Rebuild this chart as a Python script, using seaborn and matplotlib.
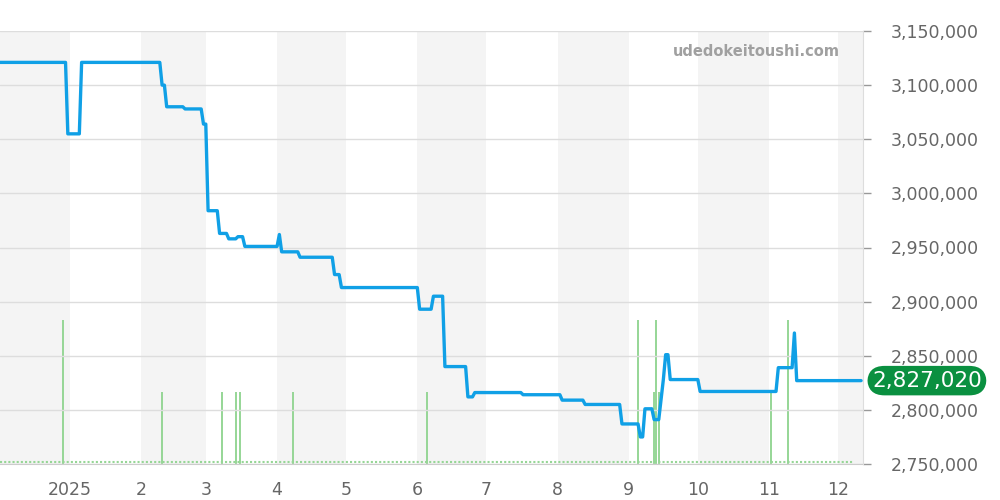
import matplotlib
matplotlib.use('Agg')
import matplotlib.pyplot as plt
import matplotlib.ticker as mticker
import pandas as pd
import seaborn as sns

sns.set_style('white')
plt.rcParams['font.family'] = ['DejaVu Sans']

price_dates = [
    '2024-12-01', '2024-12-30', '2024-12-31', '2025-01-05', '2025-01-06',
    '2025-02-09', '2025-02-10', '2025-02-11', '2025-02-12', '2025-02-19',
    '2025-02-20', '2025-02-27', '2025-02-28', '2025-03-01', '2025-03-02',
    '2025-03-06', '2025-03-07', '2025-03-10', '2025-03-11', '2025-03-14',
    '2025-03-15', '2025-03-17', '2025-03-18', '2025-04-01', '2025-04-02',
    '2025-04-03', '2025-04-10', '2025-04-11', '2025-04-25', '2025-04-26',
    '2025-04-28', '2025-04-29', '2025-06-01', '2025-06-02', '2025-06-07',
    '2025-06-08', '2025-06-12', '2025-06-13', '2025-06-22', '2025-06-23',
    '2025-06-25', '2025-06-26', '2025-07-16', '2025-07-17', '2025-08-02',
    '2025-08-03', '2025-08-12', '2025-08-13', '2025-08-28', '2025-08-29',
    '2025-09-05', '2025-09-06', '2025-09-07', '2025-09-08', '2025-09-11',
    '2025-09-12', '2025-09-14', '2025-09-16', '2025-09-17', '2025-09-18',
    '2025-09-19', '2025-10-01', '2025-10-02', '2025-11-04', '2025-11-05',
    '2025-11-11', '2025-11-12', '2025-11-13', '2025-12-11',
]
price_values = [
    3121000, 3121000, 3055000, 3055000, 3121000,
    3121000, 3100000, 3100000, 3080000, 3080000,
    3078000, 3078000, 3064000, 3064000, 2984000,
    2984000, 2963000, 2963000, 2958000, 2958000,
    2960000, 2960000, 2951000, 2951000, 2962000,
    2946000, 2946000, 2941000, 2941000, 2925000,
    2925000, 2913000, 2913000, 2893000, 2893000,
    2905000, 2905000, 2840000, 2840000, 2812000,
    2812000, 2816000, 2816000, 2814000, 2814000,
    2809000, 2809000, 2805000, 2805000, 2787000,
    2787000, 2775000, 2775000, 2801000, 2801000,
    2791000, 2791000, 2828000, 2851000, 2851000,
    2828000, 2828000, 2817000, 2817000, 2839000,
    2839000, 2871000, 2827020, 2827020,
]

volume_dates = [
    '2024-12-29', '2025-02-10', '2025-03-08', '2025-03-14', '2025-03-16',
    '2025-04-08', '2025-06-05', '2025-09-05', '2025-09-12', '2025-09-13',
    '2025-09-14', '2025-11-02', '2025-11-09',
]
volume_values = [2, 1, 1, 1, 1, 1, 1, 2, 1, 2, 1, 1, 2]

month_starts = ['2024-12-01', '2025-01-01', '2025-02-01', '2025-03-01', '2025-04-01',
                '2025-05-01', '2025-06-01', '2025-07-01', '2025-08-01', '2025-09-01',
                '2025-10-01', '2025-11-01', '2025-12-01', '2026-01-01']
month_labels = ['', '2025', '2', '3', '4', '5', '6', '7', '8', '9', '10', '11', '12', '']

watermark = 'udedokeitoushi.com'

LINE = '#10a0e6'
VOL = '#96d696'
BADGE = '#0a9040'
TEXT = '#666666'

price_df = pd.DataFrame({'date': pd.to_datetime(price_dates), 'price': price_values})
volume_df = pd.DataFrame({'date': pd.to_datetime(volume_dates), 'volume': volume_values})
months = pd.to_datetime(month_starts)

fig = plt.figure(figsize=(10, 5), dpi=100)
ax_vol = fig.add_axes([0, 0.072, 0.863, 0.866])
ax = ax_vol.twinx()

# alternating month bands
for i in range(0, len(months) - 1, 2):
    ax_vol.axvspan(months[i], months[i + 1], color='#f4f4f4', lw=0, zorder=0)

ax_vol.vlines(volume_df['date'], 0, volume_df['volume'], color=VOL, lw=1.4, zorder=2)
ax_vol.axhline(0.03, color=VOL, ls=(0, (1, 1)), lw=1.5, xmax=0.99, zorder=2)
ax_vol.set_ylim(0, 6)
ax_vol.set_yticks([])

sns.lineplot(data=price_df, x='date', y='price', ax=ax, color=LINE, linewidth=2.4, zorder=3)

xlim = (pd.Timestamp('2024-12-01 12:00'), pd.Timestamp('2025-12-11 20:00'))
ax_vol.set_xlim(*xlim)
ax.set_xlim(*xlim)
ax.set_ylim(2750000, 3150000)
ax.yaxis.set_major_locator(mticker.MultipleLocator(50000))
ax.yaxis.set_major_formatter(mticker.FuncFormatter(lambda v, p: f'{v:,.0f}'))
ax.set_ylabel('')
ax.set_xlabel('')
ax_vol.set_xlabel('')
ax.grid(axis='y', color='#dddddd', lw=1)
ax.tick_params(axis='y', length=6, pad=14, labelsize=12.5, labelcolor=TEXT, color='#999999', width=1)

ax_vol.set_xticks(months[1:-1])
ax_vol.set_xticklabels(month_labels[1:-1])
ax_vol.tick_params(axis='x', length=4, pad=8, labelsize=12.5, labelcolor=TEXT, color='#999999', width=1)

for side in ['left', 'top', 'bottom']:
    ax.spines[side].set_visible(False)
ax.spines['right'].set_color('#dddddd')
for side in ['left', 'top', 'right']:
    ax_vol.spines[side].set_visible(False)
ax_vol.spines['bottom'].set_color('#cccccc')

last_price = price_values[-1]
ax.annotate(f'{last_price:,}', xy=(1, last_price), xycoords=('axes fraction', 'data'),
            xytext=(6.5, 0), textcoords='offset points', ha='left', va='center',
            fontsize=15.5, color='white', annotation_clip=False,
            bbox=dict(boxstyle='round,pad=0.22,rounding_size=0.8', fc=BADGE, ec='none'))

fig.text(0.840, 0.896, watermark, ha='right', va='center', fontsize=10.5,
         fontweight='bold', color='#a0a0a0')

fig.savefig('out.png', dpi=100)
